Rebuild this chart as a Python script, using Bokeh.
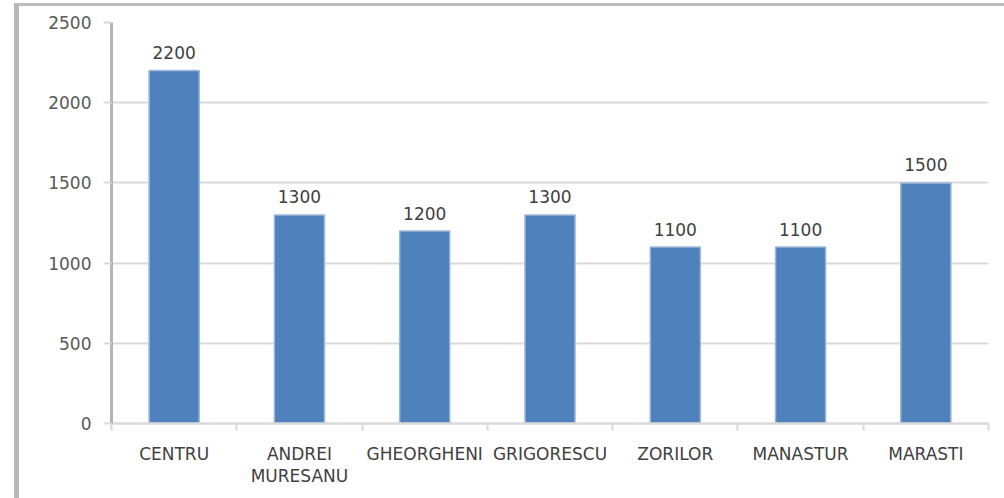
from bokeh.plotting import figure
from bokeh.models import FixedTicker, Range1d, ColumnDataSource
from bokeh.layouts import column
from bokeh.embed import file_html
from bokeh.resources import INLINE
from bokeh.core.properties import value

# Neighbourhood values
categories = ["CENTRU", "ANDREI\nMURESANU", "GHEORGHENI", "GRIGORESCU",
              "ZORILOR", "MANASTUR", "MARASTI"]
counts = [2200, 1300, 1200, 1300, 1100, 1100, 1500]
y_ticks = [0, 500, 1000, 1500, 2000, 2500]

FONT = "DejaVu Sans"
GRID = "#d9d9d9"

positions = list(range(1, len(categories) + 1))
src = ColumnDataSource(dict(x=positions, top=counts,
                            label=[str(v) for v in counts]))

p = figure(width=985, height=492,
           x_range=Range1d(0.5, len(categories) + 0.5),
           y_range=Range1d(0, 2500),
           output_backend="svg", toolbar_location=None,
           min_border_left=92, min_border_right=16,
           min_border_top=16, min_border_bottom=75)
p.outline_line_color = None
p.background_fill_color = "white"
p.border_fill_color = "white"

# horizontal grid
p.xgrid.visible = False
p.ygrid.ticker = FixedTicker(ticks=y_ticks)
p.ygrid.grid_line_color = GRID
p.ygrid.grid_line_width = 2

# bars and value labels
p.vbar(x="x", top="top", width=0.4, source=src,
       fill_color="#4f81bd", line_color="#9db8dc", line_width=1.5)
p.text(x="x", y="top", text="label", source=src,
       text_align="center", text_baseline="middle", y_offset=-18,
       text_font=value(FONT), text_font_size="17px", text_color="#404040")

# category axis: ticks between categories, labels under each bar
xa = p.xaxis[0]
xa.ticker = FixedTicker(ticks=positions,
                        minor_ticks=[i + 0.5 for i in range(len(categories) + 1)])
xa.major_label_overrides = {pos: cat for pos, cat in zip(positions, categories)}
xa.major_tick_line_color = None
xa.major_tick_out = 0
xa.minor_tick_line_color = GRID
xa.minor_tick_line_width = 2
xa.minor_tick_out = 7
xa.minor_tick_in = 0
xa.axis_line_color = GRID
xa.axis_line_width = 2.5
xa.major_label_standoff = 13
xa.major_label_text_font = FONT
xa.major_label_text_font_size = "17px"
xa.major_label_text_color = "#404040"
xa.major_label_text_line_height = 1.1

# value axis
ya = p.yaxis[0]
ya.ticker = FixedTicker(ticks=y_ticks, minor_ticks=[])
ya.axis_line_color = "#b4b4b4"
ya.axis_line_width = 3
ya.major_tick_line_color = GRID
ya.major_tick_line_width = 2
ya.major_tick_out = 8
ya.major_tick_in = 0
ya.minor_tick_line_color = None
ya.major_label_standoff = 12
ya.major_label_text_font = FONT
ya.major_label_text_font_size = "17px"
ya.major_label_text_color = "#595959"

layout = column(p, styles={"margin-left": "14px", "margin-top": "3px",
                           "border-left": "5px solid #b7b7b7",
                           "border-top": "3px solid #bdbdbd"})

open("out.html", "w").write(file_html(layout, INLINE))
